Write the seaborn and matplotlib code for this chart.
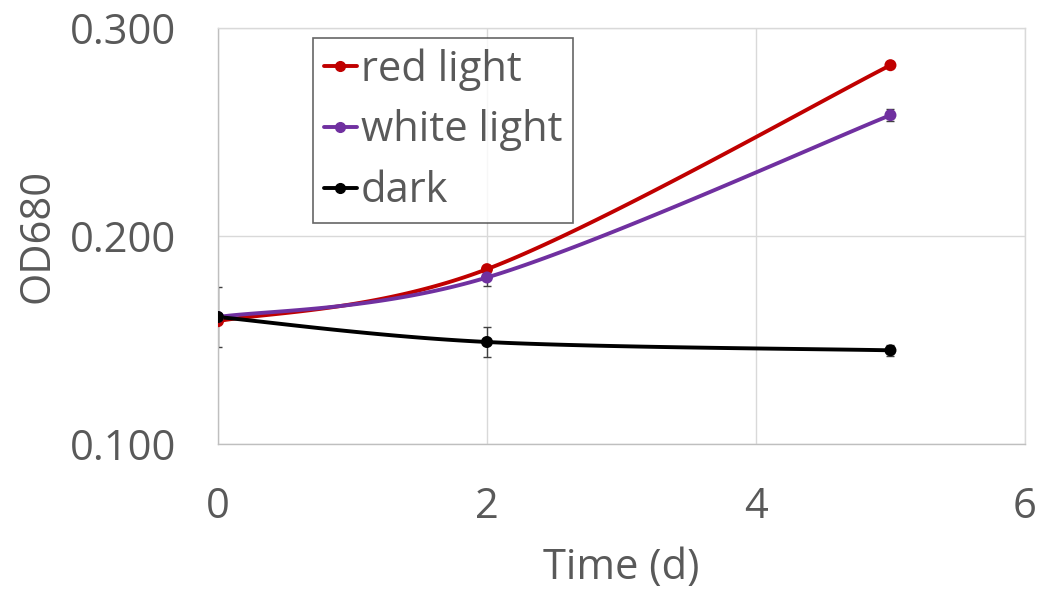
import numpy as np
import pandas as pd
import matplotlib
matplotlib.use("Agg")
import matplotlib.pyplot as plt
import seaborn as sns
from matplotlib.lines import Line2D

# ---- data ----
time_days = [0, 2, 5]
red_light = [0.159, 0.184, 0.282]
red_err = [0.001, 0.001, 0.001]
white_light = [0.161, 0.180, 0.258]
white_err = [0.001, 0.004, 0.003]
dark = [0.161, 0.149, 0.145]
dark_err = [0.0145, 0.007, 0.0025]
series_names = ["red light", "white light", "dark"]
series_colors = ["#C00000", "#7030A0", "#000000"]
x_ticks = [0, 2, 4, 6]
y_ticks = [0.100, 0.200, 0.300]


def smooth(xs, ys, n=60):
    """Excel-like smoothed line (Catmull-Rom Bezier) through the points."""
    P = np.column_stack([xs, ys]).astype(float)
    out = []
    for i in range(len(P) - 1):
        p0 = P[i - 1] if i > 0 else P[i]
        p1, p2 = P[i], P[i + 1]
        p3 = P[i + 2] if i + 2 < len(P) else P[i + 1]
        c1 = p1 + (p2 - p0) / 6.0
        c2 = p2 - (p3 - p1) / 6.0
        t = np.linspace(0, 1, n)[:, None]
        seg = ((1 - t) ** 3) * p1 + 3 * ((1 - t) ** 2) * t * c1 + 3 * (1 - t) * t ** 2 * c2 + t ** 3 * p2
        out.append(seg if i == 0 else seg[1:])
    return np.vstack(out)


sns.set_theme(style="white")
plt.rcParams["font.family"] = ["Open Sans", "DejaVu Sans"]
text_color = "#595959"
fs = 30

fig = plt.figure(figsize=(10.48, 5.90), dpi=100)
ax = fig.add_axes([0.208, 0.2475, 0.770, 0.7055])

values = [red_light, white_light, dark]
errors = [red_err, white_err, dark_err]

frames = []
for name, ys in zip(series_names, values):
    c = smooth(time_days, ys)
    frames.append(pd.DataFrame({"x": c[:, 0], "y": c[:, 1], "series": name}))
curves = pd.concat(frames, ignore_index=True)

pts = pd.DataFrame({
    "x": np.tile(time_days, 3),
    "y": np.concatenate(values),
    "series": np.repeat(series_names, len(time_days)),
})

palette = dict(zip(series_names, series_colors))
sns.lineplot(data=curves, x="x", y="y", hue="series", palette=palette, sort=False,
             estimator=None, linewidth=2.8, legend=False, ax=ax, zorder=3)
for name, ys, es, col in zip(series_names, values, errors, series_colors):
    ax.errorbar(time_days, ys, yerr=es, fmt="none", ecolor="#404040", elinewidth=1.0,
                capsize=3, capthick=1.0, zorder=2)
sns.scatterplot(data=pts, x="x", y="y", hue="series", palette=palette, s=75,
                edgecolor="none", legend=False, ax=ax, zorder=4)

ax.set_xlim(0, 6)
ax.set_ylim(0.100, 0.300)
ax.set_xticks(x_ticks)
ax.set_xticklabels([str(t) for t in x_ticks])
ax.set_yticks(y_ticks)
ax.set_yticklabels([f"{v:.3f}" for v in y_ticks])
ax.grid(True, color="#D9D9D9", linewidth=1.0)
for s in ax.spines.values():
    s.set_color("#D9D9D9")
    s.set_linewidth(1.0)
ax.spines["left"].set_color("#BFBFBF")
ax.spines["bottom"].set_color("#BFBFBF")
ax.tick_params(axis="both", length=0, labelsize=fs, colors=text_color)
ax.tick_params(axis="y", pad=30)
ax.tick_params(axis="x", pad=30)
ax.set_xlabel("Time (d)", fontsize=fs, color=text_color, labelpad=14)
ax.set_ylabel("OD680", fontsize=fs, color=text_color, labelpad=8)

handles = [Line2D([0], [0], color=c, linewidth=2.8, marker="o", markersize=7)
           for c in series_colors]
leg = ax.legend(handles, series_names, loc="upper left", bbox_to_anchor=(0.118, 0.976),
                fontsize=fs, frameon=True, fancybox=False, handlelength=0.8,
                handletextpad=0.1, borderpad=0.25, labelspacing=0.45, borderaxespad=0)
leg.get_frame().set_edgecolor("#404040")
leg.get_frame().set_linewidth(1.2)
for t in leg.get_texts():
    t.set_color(text_color)

fig.savefig("out.png", dpi=100, facecolor="white")
